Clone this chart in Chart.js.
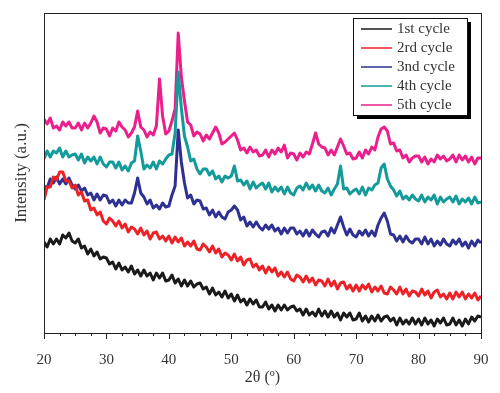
<!DOCTYPE html>
<html>
<head>
<meta charset="utf-8">
<script src="https://cdn.jsdelivr.net/npm/chart.js@4.4.1/dist/chart.umd.min.js"></script>
<style>
  html, body { margin: 0; padding: 0; background: #fff; }
  #wrap { width: 500px; height: 393px; }
</style>
</head>
<body>
<div id="wrap"><canvas id="xrd" width="500" height="393"></canvas></div>
<script>
// 2-theta sampling grid (degrees)
const angles = [
  20, 20.5, 21, 21.5, 22, 22.5, 23, 23.5, 24, 24.5,
  25, 25.5, 26, 26.5, 27, 27.5, 28, 28.5, 29, 29.5,
  30, 30.5, 31, 31.5, 32, 32.5, 33, 33.5, 34, 34.5,
  35, 35.5, 36, 36.5, 37, 37.5, 38, 38.5, 39, 39.5,
  40, 40.5, 41, 41.5, 42, 42.5, 43, 43.5, 44, 44.5,
  45, 45.5, 46, 46.5, 47, 47.5, 48, 48.5, 49, 49.5,
  50, 50.5, 51, 51.5, 52, 52.5, 53, 53.5, 54, 54.5,
  55, 55.5, 56, 56.5, 57, 57.5, 58, 58.5, 59, 59.5,
  60, 60.5, 61, 61.5, 62, 62.5, 63, 63.5, 64, 64.5,
  65, 65.5, 66, 66.5, 67, 67.5, 68, 68.5, 69, 69.5,
  70, 70.5, 71, 71.5, 72, 72.5, 73, 73.5, 74, 74.5,
  75, 75.5, 76, 76.5, 77, 77.5, 78, 78.5, 79, 79.5,
  80, 80.5, 81, 81.5, 82, 82.5, 83, 83.5, 84, 84.5,
  85, 85.5, 86, 86.5, 87, 87.5, 88, 88.5, 89, 89.5,
  90
];

// intensities (a.u., stacked offsets as in the figure)
const cycle1 = [
  91, 86, 94, 89, 94, 89, 98, 95, 100, 92,
  90, 94, 85, 87, 79, 84, 77, 81, 74, 76,
  75, 69, 71, 64, 70, 63, 66, 61, 67, 59,
  63, 57, 63, 57, 60, 53, 60, 55, 60, 52,
  53, 58, 50, 54, 47, 53, 47, 52, 46, 49,
  50, 44, 46, 39, 45, 38, 41, 36, 42, 35,
  39, 32, 38, 31, 34, 28, 34, 29, 33, 26,
  26, 31, 24, 28, 22, 28, 23, 28, 23, 26,
  27, 22, 24, 18, 24, 18, 21, 17, 24, 17,
  22, 16, 22, 16, 20, 13, 20, 16, 20, 13,
  14, 20, 12, 17, 11, 17, 12, 18, 12, 16,
  17, 12, 15, 8, 15, 9, 13, 9, 15, 9,
  14, 8, 15, 9, 13, 7, 14, 10, 15, 8,
  9, 15, 8, 13, 7, 14, 9, 16, 12, 17,
  16
];
const cycle2 = [
  133, 146, 146, 156, 153, 161, 161, 152, 152, 145,
  148, 138, 141, 132, 133, 123, 125, 118, 121, 112,
  109, 115, 112, 107, 112, 105, 109, 101, 106, 104,
  99, 105, 98, 102, 94, 100, 101, 94, 97, 92,
  97, 90, 96, 91, 95, 87, 91, 87, 92, 84,
  83, 89, 86, 81, 87, 80, 84, 76, 80, 78,
  73, 79, 72, 76, 68, 73, 74, 66, 69, 63,
  67, 60, 66, 61, 65, 57, 61, 56, 61, 54,
  52, 58, 56, 51, 57, 51, 55, 48, 53, 52,
  47, 54, 47, 52, 44, 50, 51, 44, 48, 42,
  48, 42, 48, 44, 49, 41, 46, 42, 47, 40,
  39, 46, 43, 39, 46, 39, 44, 37, 42, 41,
  37, 44, 38, 42, 35, 41, 43, 36, 39, 34,
  40, 34, 41, 36, 41, 34, 39, 35, 40, 33,
  37
];
const cycle3 = [
  147, 145, 154, 150, 156, 149, 154, 149, 155, 148,
  144, 148, 142, 145, 138, 140, 133, 139, 133, 138,
  137, 130, 133, 127, 133, 128, 133, 130, 130, 140,
  155, 140, 136, 129, 133, 125, 128, 124, 130, 126,
  127, 138, 147, 203, 171, 150, 135, 138, 129, 133,
  132, 124, 125, 118, 123, 116, 121, 116, 114, 121,
  123, 127, 123, 113, 116, 107, 111, 106, 111, 106,
  103, 108, 104, 108, 102, 105, 99, 105, 100, 105,
  105, 99, 102, 97, 103, 97, 103, 99, 96, 101,
  102, 97, 105, 100, 108, 116, 106, 98, 104, 98,
  96, 102, 98, 103, 97, 102, 97, 108, 115, 120,
  112, 99, 98, 92, 97, 91, 97, 92, 90, 94,
  94, 89, 96, 89, 94, 87, 92, 88, 94, 89,
  87, 93, 89, 94, 87, 91, 85, 92, 87, 93,
  90
];
const cycle4 = [
  174, 182, 176, 182, 180, 185, 176, 182, 176, 178,
  179, 173, 179, 170, 176, 172, 176, 169, 176, 169,
  166, 171, 171, 165, 171, 163, 167, 162, 170, 172,
  197, 182, 164, 168, 165, 171, 164, 172, 169, 174,
  178, 179, 200, 261, 225, 197, 186, 172, 174, 164,
  159, 164, 164, 158, 162, 154, 157, 151, 157, 155,
  157, 167, 152, 153, 148, 152, 144, 151, 145, 148,
  150, 144, 150, 141, 146, 142, 146, 139, 146, 140,
  138, 145, 147, 143, 150, 144, 148, 142, 148, 142,
  140, 145, 138, 144, 149, 167, 144, 145, 139, 142,
  144, 139, 146, 138, 145, 143, 148, 150, 165, 169,
  154, 147, 143, 137, 142, 134, 137, 133, 138, 134,
  132, 138, 131, 136, 133, 138, 129, 136, 131, 134,
  136, 131, 137, 129, 134, 131, 135, 129, 136, 130,
  131
];
const cycle5 = [
  214, 209, 215, 205, 207, 203, 211, 207, 211, 205,
  205, 210, 203, 210, 205, 210, 217, 211, 200, 205,
  204, 197, 205, 202, 211, 206, 203, 196, 200, 206,
  222, 206, 203, 196, 201, 198, 207, 254, 217, 199,
  202, 212, 224, 300, 256, 232, 211, 208, 197, 201,
  199, 192, 198, 194, 200, 206, 200, 189, 191, 194,
  197, 200, 193, 183, 185, 180, 186, 181, 183, 177,
  178, 183, 176, 183, 179, 185, 181, 188, 175, 180,
  179, 173, 180, 176, 181, 179, 189, 200, 189, 186,
  185, 178, 183, 178, 186, 194, 187, 179, 180, 174,
  175, 181, 175, 183, 179, 186, 183, 196, 204, 206,
  202, 189, 190, 182, 183, 175, 178, 171, 175, 177,
  177, 171, 176, 169, 174, 171, 178, 174, 177, 172,
  174, 178, 171, 178, 173, 177, 171, 176, 169, 175,
  175
];

const seriesNames = ['1st cycle', '2rd cycle', '3nd cycle', '4th cycle', '5th cycle'];
const seriesColors = ['#1a1a1a', '#ec2227', '#2e3192', '#139a9a', '#ea1f8c'];
const xTickLabels = [20, 30, 40, 50, 60, 70, 80, 90];

const serif = '"Liberation Serif", "Times New Roman", serif';

function pairs(ys) {
  return angles.map((a, i) => ({ x: a, y: ys[i] }));
}

// frame, outward x ticks and the boxed legend with shadow
const framePlugin = {
  id: 'frame',
  afterDraw(chart) {
    const ctx = chart.ctx;
    const a = chart.chartArea;
    const xs = chart.scales.x;
    ctx.save();
    ctx.strokeStyle = '#222';
    ctx.lineWidth = 1;
    ctx.strokeRect(a.left + 0.5, a.top + 0.5, a.right - a.left, a.bottom - a.top);

    xs.ticks.forEach(t => {
      const px = Math.round(xs.getPixelForValue(t.value)) + 0.5;
      const major = xTickLabels.includes(t.value);
      ctx.beginPath();
      ctx.moveTo(px, a.bottom);
      ctx.lineTo(px, a.bottom + (major ? 6 : 3));
      ctx.stroke();
    });

    // legend
    const bx = 353, by = 18, bw = 114, bh = 97;
    ctx.fillStyle = '#000';
    ctx.fillRect(bx + 4, by + 4, bw, bh);
    ctx.fillStyle = '#fff';
    ctx.fillRect(bx, by, bw, bh);
    ctx.strokeStyle = '#111';
    ctx.strokeRect(bx + 0.5, by + 0.5, bw, bh);
    ctx.font = '15px ' + serif;
    ctx.textBaseline = 'middle';
    chart.data.datasets.forEach((ds, i) => {
      const y = 29 + i * 19;
      ctx.strokeStyle = ds.borderColor;
      ctx.lineWidth = 1.5;
      ctx.beginPath();
      ctx.moveTo(361, y);
      ctx.lineTo(392, y);
      ctx.stroke();
      ctx.fillStyle = '#333';
      ctx.fillText(ds.label, 397, y);
    });
    ctx.restore();
  }
};

new Chart(document.getElementById('xrd'), {
  type: 'line',
  data: {
    datasets: [cycle1, cycle2, cycle3, cycle4, cycle5].map((s, i) => ({
      label: seriesNames[i],
      data: pairs(s),
      borderColor: seriesColors[i],
      borderWidth: 3,
      borderJoinStyle: 'round',
      pointRadius: 0,
      tension: 0,
      fill: false
    }))
  },
  options: {
    responsive: false,
    animation: false,
    layout: { padding: { left: 0, right: 19, top: 13, bottom: 0 } },
    plugins: {
      legend: { display: false },
      tooltip: { enabled: false }
    },
    scales: {
      x: {
        type: 'linear',
        min: 20,
        max: 90,
        afterFit: s => { s.height = 60; },
        border: { display: false },
        grid: { display: false },
        ticks: {
          stepSize: 2.5,
          autoSkip: false,
          maxRotation: 0,
          padding: 10,
          color: '#333',
          font: { family: serif, size: 15 },
          callback: v => xTickLabels.includes(v) ? String(v) : ''
        },
        title: {
          display: true,
          text: '2θ (º)',
          color: '#333',
          font: { family: serif, size: 16 },
          padding: { top: 0, bottom: 6 }
        }
      },
      y: {
        min: 0,
        max: 320,
        afterFit: s => { s.width = 44; },
        border: { display: false },
        grid: { display: false },
        ticks: { display: false },
        title: {
          display: true,
          text: 'Intensity (a.u.)',
          color: '#333',
          font: { family: serif, size: 17 },
          padding: { top: 11, bottom: 0 }
        }
      }
    }
  },
  plugins: [framePlugin]
});
</script>
</body>
</html>
